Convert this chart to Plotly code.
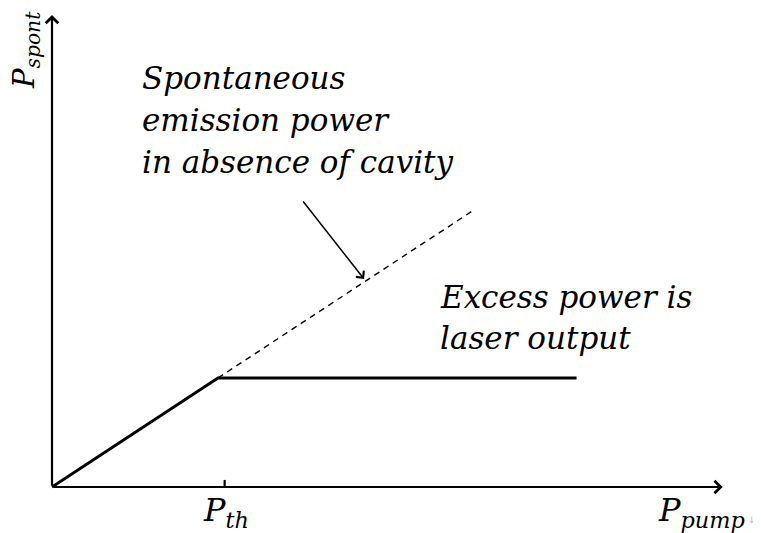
import plotly.graph_objects as go

# ---- data (arbitrary units: P_th = 1, spontaneous power at threshold = 1) ----
laser_x = [0.0, 1.0, 3.16]          # P_pump
laser_y = [0.0, 1.0, 1.0]           # P_spont clamped above threshold
nocav_x = [1.0, 2.53]               # extrapolated, no cavity
nocav_y = [1.0, 2.53]
p_th = 1.04                          # tick position of threshold
x_axis_end = 4.04
y_axis_end = 4.33

W, H = 761, 533
OFF = 8                                   # page body margin offset
X0, Y0, SX, SY = 52 - OFF, 487 - OFF, 166.0, 109.0   # figure-pixel mapping of data origin

def px(x):
    return (x - OFF) / W

def py(y):
    return 1 - (y - OFF) / H

def dx(p):
    return (p - OFF - X0) / SX

def dy(p):
    return (Y0 - (p - OFF)) / SY

fig = go.Figure()

fig.add_trace(go.Scatter(x=laser_x, y=laser_y, mode="lines",
                         line=dict(color="black", width=2.8), hoverinfo="skip"))
fig.add_trace(go.Scatter(x=nocav_x, y=nocav_y, mode="lines",
                         line=dict(color="black", width=1.4, dash="6px,5px"), hoverinfo="skip"))

# axes with arrowheads
fig.add_annotation(x=x_axis_end, y=0, ax=0, ay=0, xref="x", yref="y", axref="x", ayref="y",
                   showarrow=True, arrowhead=4, arrowsize=1.1, arrowwidth=2.2, arrowcolor="black", text="")
fig.add_annotation(x=0, y=y_axis_end, ax=0, ay=0, xref="x", yref="y", axref="x", ayref="y",
                   showarrow=True, arrowhead=4, arrowsize=1.1, arrowwidth=2.2, arrowcolor="black", text="")

# threshold tick
fig.add_shape(type="line", x0=p_th, x1=p_th, y0=0, y1=0.065, xref="x", yref="y",
              line=dict(color="black", width=2.2))

# pointer arrow to dashed line
fig.add_annotation(x=dx(364), y=dy(279), ax=dx(302), ay=dy(200),
                   xref="x", yref="y", axref="x", ayref="y", text="", showarrow=True,
                   arrowhead=4, arrowsize=1.3, arrowwidth=1.5, arrowcolor="black")

TXT = dict(family="DejaVu Serif", size=31, color="black")
LBL = dict(family="DejaVu Serif", size=32, color="black")

lines1 = ["Spontaneous", "emission power", "in absence of cavity"]
base1 = [88, 130, 172]
for t, b in zip(lines1, base1):
    fig.add_annotation(x=px(140), y=py(b - 10), xref="paper", yref="paper", xanchor="left",
                       yanchor="middle", showarrow=False, font=TXT, text="<i>" + t + "</i>")
lines2 = ["Excess power is", "laser output"]
base2 = [307, 348]
for t, b in zip(lines2, base2):
    fig.add_annotation(x=px(438), y=py(b - 10), xref="paper", yref="paper", xanchor="left",
                       yanchor="middle", showarrow=False, font=TXT, text="<i>" + t + "</i>")

fig.add_annotation(x=px(226), y=py(512), xref="paper", yref="paper", xanchor="center", yanchor="middle",
                   showarrow=False, font=LBL, text="<i>P<sub>th</sub></i>")
fig.add_annotation(x=px(701), y=py(512), xref="paper", yref="paper", xanchor="center", yanchor="middle",
                   showarrow=False, font=LBL, text="<i>P<sub>pump</sub></i>")
fig.add_annotation(x=px(26), y=py(50), xref="paper", yref="paper", xanchor="center", yanchor="middle",
                   showarrow=False, font=dict(family="DejaVu Serif", size=29, color="black"),
                   textangle=-90, borderpad=0, text="<i>P<sub>spont</sub></i>")
fig.add_annotation(x=px(752), y=py(520), xref="paper", yref="paper", xanchor="center", yanchor="middle",
                   showarrow=False, font=dict(family="DejaVu Sans", size=9, color="#b4b4e0"), text="↓")

fig.update_xaxes(range=[-X0 / SX, (W - X0) / SX], visible=False, fixedrange=True)
fig.update_yaxes(range=[(Y0 - H) / SY, Y0 / SY], visible=False, fixedrange=True)
fig.update_layout(width=W, height=H, margin=dict(l=0, r=0, t=0, b=0),
                  paper_bgcolor="white", plot_bgcolor="white", showlegend=False)

fig.write_html("out.html")
